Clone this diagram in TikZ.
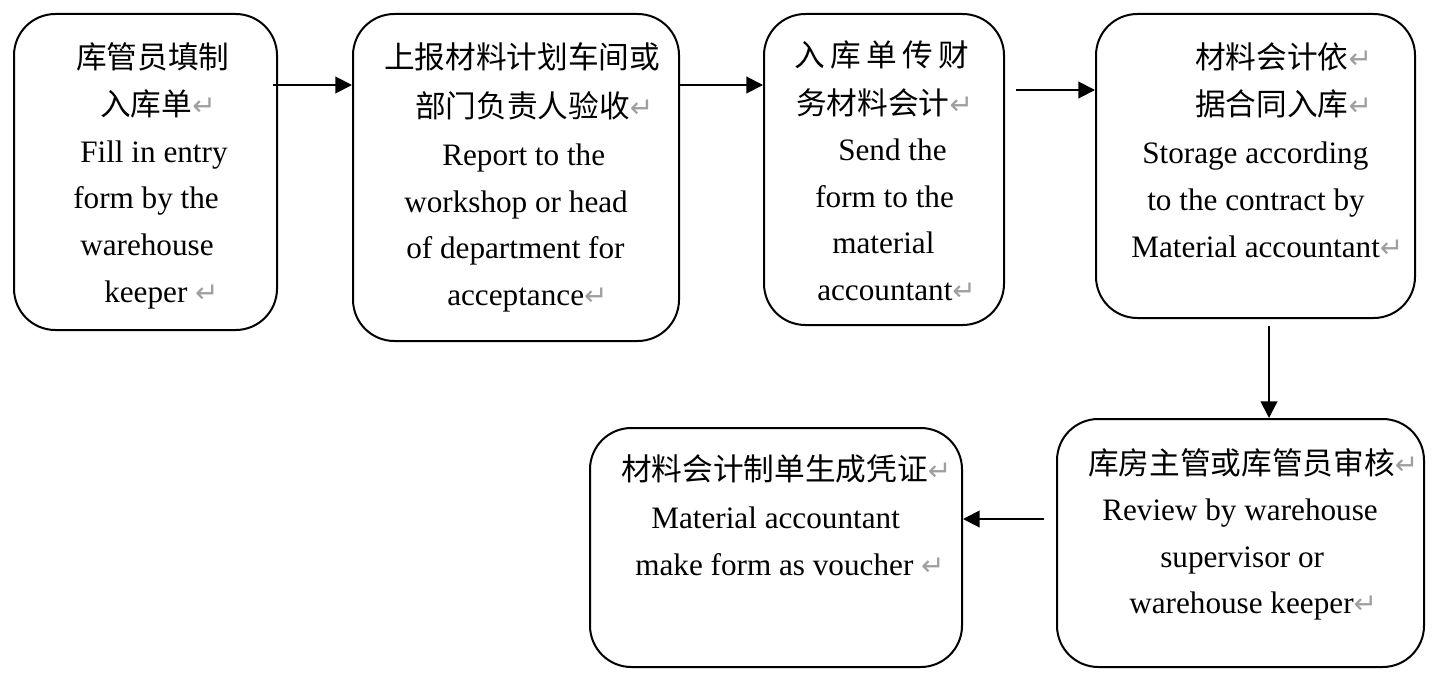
\documentclass[tikz,border=0pt]{standalone}
\usepackage{fontspec}
\setmainfont{Liberation Serif}
\newfontfamily\cjk{Noto Sans CJK SC}
\newfontfamily\symf{DejaVu Sans}
\usetikzlibrary{arrows.meta,fit}
\newcommand{\rtmark}{{\symf\fontsize{21pt}{21pt}\selectfont\color{gray!75}↵}}
\begin{document}
\begin{tikzpicture}[x=0.75pt,y=-0.75pt,
  box/.style={draw, line width=1.5pt, rounded corners=31pt, inner sep=0pt},
  en/.style={anchor=base west, inner sep=0pt, font=\fontsize{23.4pt}{28pt}\selectfont},
  cn/.style={anchor=base west, inner sep=0pt, font=\cjk\fontsize{23pt}{28pt}\selectfont},
  arr/.style={line width=1.5pt, -{Triangle[length=12.5pt,width=12.5pt]}}]
\useasboundingbox (0,0) rectangle (1441,685);
% boxes
\node[box, fit={(14,14)(277,330)}] (b1) {};
\node[box, fit={(353,14)(679,341)}] (b2) {};
\node[box, fit={(764,14)(1004,325)}] (b3) {};
\node[box, fit={(1096,14)(1415,318)}] (b4) {};
\node[box, fit={(1057,419)(1424,667)}] (b5) {};
\node[box, fit={(590,428)(962,667)}] (b6) {};
% box 1 text
\node[cn] (t11) at (76,69) {库管员填制};
\node[cn] (t12) at (100,115) {入库单\rtmark};
\node[en] (t13) at (80,162) {Fill in entry};
\node[en] (t14) at (73,208) {form by the};
\node[en] (t15) at (80,255) {warehouse};
\node[en] (t16) at (104,302) {keeper \rtmark};
% box 2 text
\node[cn] (t21) at (384,69) {上报材料计划车间或};
\node[cn] (t22) at (415,117) {部门负责人验收\rtmark};
\node[en] (t23) at (442,165) {Report to the};
\node[en] (t24) at (404,212) {workshop or head};
\node[en] (t25) at (406,258) {of department for};
\node[en] (t26) at (447,305) {acceptance\rtmark};
% box 3 text
\node[cn] (t31) at (794,67) {入\hspace{4pt}库\hspace{4pt}单\hspace{4pt}传\hspace{4pt}财};
\node[cn] (t32) at (796,114) {务材料会计\rtmark};
\node[en] (t33) at (838,160) {Send the};
\node[en] (t34) at (815,207) {form to the};
\node[en] (t35) at (832,253) {material};
\node[en] (t36) at (817,300) {accountant\rtmark};
% box 4 text
\node[cn] (t41) at (1195,69) {材料会计依\rtmark};
\node[cn] (t42) at (1195,115) {据合同入库\rtmark};
\node[en] (t43) at (1142,163) {Storage according};
\node[en] (t44) at (1147,210) {to the contract by};
\node[en] (t45) at (1131,257) {Material accountant\rtmark};
% box 5 text
\node[cn] (t51) at (1088,474) {库房主管或库管员审核\rtmark};
\node[en] (t52) at (1102,520) {Review by warehouse};
\node[en] (t53) at (1160,567) {supervisor or};
\node[en] (t54) at (1129,613) {warehouse keeper\rtmark};
% box 6 text
\node[cn] (t61) at (621,480) {材料会计制单生成凭证\rtmark};
\node[en] (t62) at (651,528) {Material accountant};
\node[en] (t63) at (635,575) {make form as voucher \rtmark};
% arrows
\coordinate (a1s) at (273,85);
\draw[arr] (a1s) -- (a1s -| b2.west);
\draw[arr] (a1s -| b2.east) -- (a1s -| b3.west);
\coordinate (a3s) at (1016,90);
\draw[arr] (a3s) -- (a3s -| b4.west);
\coordinate (a4s) at (1269,326);
\draw[arr] (a4s) -- (a4s |- b5.north);
\coordinate (a5s) at (1044,519);
\draw[arr] (a5s) -- (a5s -| b6.east);
\end{tikzpicture}
\end{document}
